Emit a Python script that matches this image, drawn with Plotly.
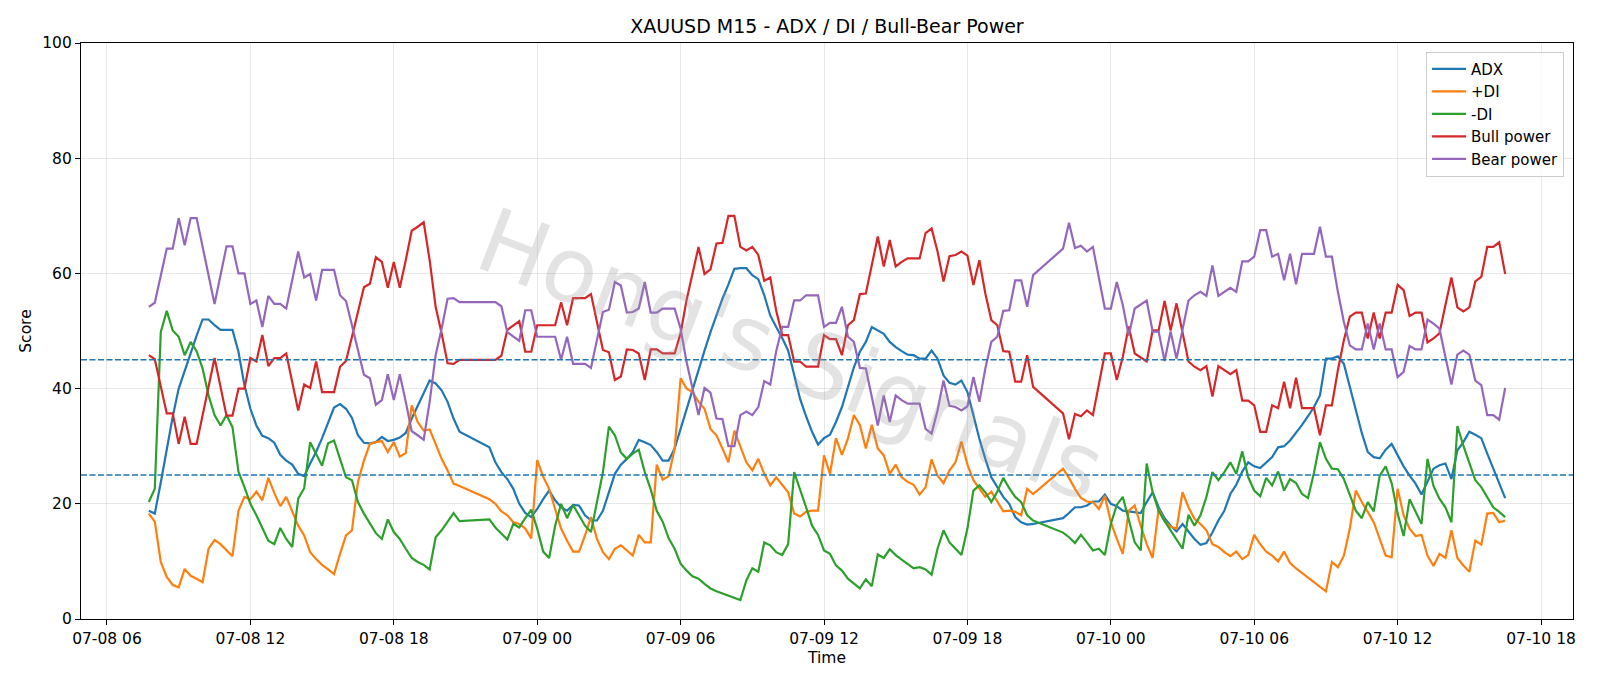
import pandas as pd
import plotly.graph_objects as go

START = pd.Timestamp("2025-07-08 07:45")
LAST_BAR = 227

bear_bars = [0,1,3,4,5,6,7,8,11,13,14,15,16,17,18,19,20,21,22,23,25,26,27,28,29,31,32,33,34,35,36,37,38,39,40,41,42,43,44,45,46,47,48,49,50,51,52,58,59,60,62,63,64,65,68,69,70,71,73,74,76,77,78,79,80,81,82,83,84,85,86,88,89,90,91,92,93,94,95,96,97,98,99,100,101,102,103,104,105,106,107,108,109,110,112,113,114,115,116,117,118,119,120,121,122,123,124,125,126,127,129,130,131,132,133,134,135,136,137,138,139,140,141,142,143,144,145,146,147,148,153,154,155,156,157,158,160,161,162,163,164,165,167,168,169,170,171,172,173,174,175,176,177,178,179,180,181,182,183,184,185,186,187,188,189,190,191,192,193,195,196,197,198,199,200,201,202,203,204,205,206,207,208,209,210,211,212,213,214,215,216,217,218,219,220,221,222,223,224,225,226,227]
bear_power = [54.2,54.9,64.3,64.3,69.6,64.9,69.6,69.6,54.7,64.7,64.7,60.0,60.0,54.7,55.3,50.7,56.1,54.7,54.7,53.9,63.8,59.3,59.9,55.3,60.6,60.6,56.2,55.2,51.0,46.9,42.4,41.8,37.2,38.0,42.5,38.0,42.5,37.7,32.6,31.9,31.1,37.7,45.8,50.4,55.6,55.7,55.0,55.0,54.3,49.8,48.3,53.6,53.6,49.0,49.0,45.0,49.0,44.3,44.3,43.6,53.3,53.7,58.5,57.9,53.2,53.3,53.9,58.5,53.2,53.2,53.9,53.9,50.4,44.6,40.0,35.4,40.1,39.3,34.8,34.7,30.0,30.0,35.4,36.0,35.4,36.8,41.3,40.7,46.5,50.7,50.7,55.3,55.3,56.2,56.2,50.7,51.4,51.4,54.2,49.0,48.1,43.6,43.5,38.8,33.6,38.8,34.2,38.8,38.0,37.4,37.4,33.0,32.2,36.2,41.4,37.0,36.8,36.2,36.9,42.0,37.7,43.5,48.1,49.0,53.5,53.6,58.8,58.8,54.2,59.7,64.3,68.8,64.4,64.8,63.8,64.6,53.9,53.9,58.5,54.5,49.2,53.9,55.3,49.9,49.9,44.8,49.9,45.2,50.4,55.3,56.2,56.8,56.1,61.4,56.1,56.8,57.5,56.8,62.1,62.1,62.9,67.5,67.5,62.9,63.4,58.8,63.4,58.1,63.4,63.4,68.1,62.9,62.9,56.8,51.6,47.5,46.8,46.8,51.3,46.8,51.3,46.8,46.8,42.0,42.9,47.4,46.8,46.8,52.0,51.3,50.4,45.5,40.7,45.9,46.6,45.9,41.4,40.6,35.4,35.4,34.6,40.1]
bull_power = [45.8,45.1,35.7,35.7,30.4,35.1,30.4,30.4,45.3,35.3,35.3,40.0,40.0,45.3,44.7,49.3,43.9,45.3,45.3,46.1,36.2,40.7,40.1,44.7,39.4,39.4,43.8,44.8,49.0,53.1,57.6,58.2,62.8,62.0,57.5,62.0,57.5,62.3,67.4,68.1,68.9,62.3,54.2,49.6,44.4,44.3,45.0,45.0,45.7,50.2,51.7,46.4,46.4,51.0,51.0,55.0,51.0,55.7,55.7,56.4,46.7,46.3,41.5,42.1,46.8,46.7,46.1,41.5,46.8,46.8,46.1,46.1,49.6,55.4,60.0,64.6,59.9,60.7,65.2,65.3,70.0,70.0,64.6,64.0,64.6,63.2,58.7,59.3,53.5,49.3,49.3,44.7,44.7,43.8,43.8,49.3,48.6,48.6,45.8,51.0,51.9,56.4,56.5,61.2,66.4,61.2,65.8,61.2,62.0,62.6,62.6,67.0,67.8,63.8,58.6,63.0,63.2,63.8,63.1,58.0,62.3,56.5,51.9,51.0,46.5,46.4,41.2,41.2,45.8,40.3,35.7,31.2,35.6,35.2,36.2,35.4,46.1,46.1,41.5,45.5,50.8,46.1,44.7,50.1,50.1,55.2,50.1,54.8,49.6,44.7,43.8,43.2,43.9,38.6,43.9,43.2,42.5,43.2,37.9,37.9,37.1,32.5,32.5,37.1,36.6,41.2,36.6,41.9,36.6,36.6,31.9,37.1,37.1,43.2,48.4,52.5,53.2,53.2,48.7,53.2,48.7,53.2,53.2,58.0,57.1,52.6,53.2,53.2,48.0,48.7,49.6,54.5,59.3,54.1,53.4,54.1,58.6,59.4,64.6,64.6,65.4,59.9]

adx_bars = [0,1,2,3,4,5,6,7,8,9,10,11,12,14,15,16,17,18,19,20,21,22,23,24,25,26,27,28,29,30,31,32,33,34,35,36,37,38,39,40,41,42,43,44,45,46,47,48,49,50,51,52,57,58,59,60,61,62,63,64,65,66,67,68,69,70,71,72,73,74,75,76,77,78,79,80,81,82,83,84,85,86,87,88,89,90,91,92,93,94,95,96,97,98,99,100,101,102,103,104,105,106,107,108,109,110,111,112,113,114,115,116,117,118,119,120,121,122,123,124,125,126,127,128,129,130,131,132,133,134,135,136,137,138,139,140,141,142,143,144,145,146,147,148,153,154,155,156,157,158,159,160,161,162,163,164,165,166,167,168,169,170,171,172,173,174,175,176,177,178,179,180,181,182,183,184,185,186,187,188,189,190,191,192,193,194,195,196,197,198,199,200,201,202,203,204,205,206,207,208,209,210,211,212,213,214,215,216,217,218,219,220,221,222,223,224,225,226,227]
adx = [18.8,18.3,23.7,29.6,35.1,40.0,42.9,46.1,49.2,52.0,52.0,51.0,50.2,50.2,46.4,40.6,36.5,33.6,31.8,31.4,30.6,28.5,27.5,26.8,25.2,24.8,27.0,29.0,31.4,34.2,36.7,37.3,36.5,34.9,31.9,30.6,30.5,30.7,31.6,30.9,31.1,31.5,32.3,34.8,37.1,39.3,41.4,40.9,39.7,37.7,34.8,32.5,29.8,27.2,25.5,24.3,22.6,20.0,18.4,17.7,19.1,20.8,22.3,20.6,19.4,18.8,19.8,19.7,18.0,17.1,17.1,18.8,22.1,25.2,26.8,27.8,29.0,31.1,30.7,30.2,29.0,27.5,27.5,29.6,33.0,36.5,40.0,43.5,46.6,49.8,52.7,55.6,58.1,60.8,60.9,60.9,59.7,59.0,56.2,52.7,50.7,48.8,46.6,42.3,38.2,35.2,32.5,30.3,31.4,32.0,34.2,36.8,40.3,43.7,46.4,48.1,50.7,50.1,49.5,48.1,47.2,46.5,45.9,45.8,45.2,45.2,46.6,45.2,42.3,41.0,40.7,41.4,39.4,35.4,31.3,27.8,24.6,22.9,21.2,20.0,17.7,16.8,16.4,16.5,17.5,18.4,19.4,19.4,19.7,20.4,20.4,21.6,20.0,19.6,18.8,18.7,18.6,18.4,20.3,22.0,19.4,17.5,16.2,15.2,16.5,15.1,13.9,12.9,13.2,15.0,17.1,18.8,21.7,23.3,25.6,27.2,26.5,26.2,27.1,28.1,29.8,30.0,31.0,32.3,33.7,35.2,36.8,38.8,45.2,45.2,45.6,44.3,40.3,36.2,32.3,29.0,28.1,27.9,29.4,30.4,28.4,26.5,24.9,23.5,21.6,23.8,26.1,26.7,27.0,24.3,29.3,30.7,32.5,32.0,31.4,28.7,26.1,23.5,21.0]

pdi_bars = [0,1,2,3,4,5,6,7,8,9,10,11,12,13,14,15,16,17,18,19,20,21,22,23,24,25,26,27,28,29,30,31,32,33,34,35,36,37,38,39,40,41,42,43,44,45,46,47,48,49,50,51,52,57,58,59,60,61,62,63,64,65,66,67,68,69,70,71,72,73,74,75,76,77,78,79,80,81,82,83,84,85,86,87,88,89,90,91,92,93,94,95,96,97,98,99,100,101,102,103,104,105,106,107,108,109,110,111,112,113,114,115,116,117,118,119,120,121,122,123,124,125,126,127,128,129,130,131,132,133,134,135,136,137,138,139,140,141,142,143,144,145,146,147,148,153,154,155,156,157,158,159,160,161,162,163,164,165,166,167,168,169,170,171,172,173,174,175,176,177,178,179,180,181,182,183,184,185,186,187,188,189,190,191,192,193,194,195,196,197,198,199,200,201,202,203,204,205,206,207,208,209,210,211,212,213,214,215,216,217,218,219,220,221,222,223,224,225,226,227]
plus_di = [18.3,16.9,9.9,7.3,5.9,5.5,8.7,7.5,7.0,6.4,12.2,13.7,13.0,11.9,10.9,18.8,21.2,20.8,22.1,20.6,24.5,21.9,19.6,21.2,18.8,16.2,14.5,11.6,10.4,9.4,8.6,7.8,11.3,14.5,15.4,23.8,27.5,30.4,30.7,30.9,29.0,30.7,28.2,28.8,37.1,34.2,32.7,32.9,30.4,27.8,25.8,23.5,23.1,20.8,20.0,18.7,18.0,16.8,16.5,15.7,14.0,27.6,24.7,22.6,19.1,15.7,13.6,11.7,11.7,14.5,17.7,13.9,11.6,10.4,12.2,12.8,11.9,11.0,14.6,13.3,13.3,26.8,24.2,24.8,29.6,41.8,40.0,39.4,37.7,36.5,33.0,31.9,29.6,27.2,32.7,29.8,27.2,25.8,27.8,25.2,23.2,24.6,23.2,22.0,18.3,17.8,18.6,18.8,18.8,28.4,25.2,31.4,28.5,31.3,35.4,33.7,29.6,33.7,29.6,28.4,25.2,26.8,24.6,23.8,23.3,21.6,22.9,27.7,24.9,23.6,25.8,27.2,30.8,26.8,24.1,22.6,21.2,22.1,20.3,18.7,18.8,18.6,18.0,22.6,21.7,26.1,24.5,22.6,21.0,20.4,20.3,19.1,21.4,16.8,13.9,11.3,18.8,19.7,16.2,13.0,10.6,19.1,17.0,16.0,15.7,22.0,19.4,17.4,16.5,15.4,13.0,12.5,11.6,10.9,11.7,10.4,11.1,14.6,13.0,11.7,11.0,10.0,11.7,9.7,8.8,8.0,7.3,6.5,5.7,4.8,9.9,9.0,11.0,15.7,22.3,20.3,18.6,16.8,13.9,11.0,10.7,22.6,18.0,15.7,14.4,14.6,11.0,9.2,11.3,10.6,15.4,10.6,9.3,8.2,13.6,12.9,18.3,18.4,16.8,17.1]

mdi_bars = pdi_bars
minus_di = [20.3,22.6,49.8,53.5,50.1,49.0,45.8,48.1,46.5,43.5,38.8,35.4,33.6,35.4,33.3,25.6,22.9,20.0,18.0,15.9,13.6,13.0,15.8,13.9,12.5,20.9,22.7,30.7,28.7,26.6,30.5,31.0,27.8,24.6,24.1,20.3,18.3,16.5,14.9,13.9,17.3,15.1,13.9,12.2,10.6,9.9,9.4,8.6,14.2,15.4,16.8,18.4,17.0,17.3,15.9,14.8,13.8,16.5,15.9,17.5,19.0,15.7,11.7,10.6,16.2,20.0,17.5,19.8,18.0,16.2,15.1,20.3,25.5,33.4,31.9,28.9,27.8,28.7,29.4,25.5,22.5,18.8,16.9,14.0,12.2,9.6,8.4,7.4,7.0,6.1,5.3,4.8,4.4,4.0,3.6,3.3,6.7,8.8,8.2,13.3,12.8,11.6,11.1,13.0,25.5,22.6,19.4,16.2,14.6,11.9,11.3,9.3,8.4,7.0,6.1,5.3,6.9,5.7,11.2,10.6,12.1,11.1,10.3,9.6,8.8,9.0,8.6,7.7,12.2,15.4,13.3,12.2,11.1,15.7,22.3,23.2,22.0,20.3,22.1,24.5,22.7,21.2,20.3,18.0,17.1,15.0,14.2,13.2,14.6,13.3,11.9,12.2,11.1,16.5,19.8,21.2,17.4,13.3,11.9,27.0,22.0,18.8,17.0,15.4,13.6,12.2,18.1,16.2,18.0,21.2,25.5,24.1,25.5,27.2,25.2,29.1,24.6,22.3,21.3,24.5,23.2,25.6,22.3,24.3,23.6,21.7,21.0,25.4,30.7,27.8,26.1,26.0,24.3,21.4,18.8,17.5,20.3,18.7,24.9,26.5,23.6,18.3,14.4,20.8,18.7,16.5,27.8,23.1,20.9,19.4,16.8,33.5,30.1,27.2,24.1,22.9,21.2,19.4,18.6,17.7]

thresholds = [45, 25]
tick_times = pd.date_range("2025-07-08 06:00", "2025-07-10 18:00", freq="6h")
tick_labels = [t.strftime("%m-%d %H") for t in tick_times]


def to_time(bars):
    return [START + pd.Timedelta(minutes=15 * b) for b in bars]


series = [
    ("ADX", adx_bars, adx, "#1f77b4"),
    ("+DI", pdi_bars, plus_di, "#ff7f0e"),
    ("-DI", mdi_bars, minus_di, "#2ca02c"),
    ("Bull power", bear_bars, bull_power, "#d62728"),
    ("Bear power", bear_bars, bear_power, "#9467bd"),
]

FONT = "DejaVu Sans"

fig = go.Figure()
for name, bars, vals, col in series:
    fig.add_trace(go.Scatter(x=to_time(bars), y=vals, mode="lines", name=name,
                             line=dict(color=col, width=2.2)))

for th in thresholds:
    fig.add_shape(type="line", xref="paper", x0=0, x1=1, yref="y", y0=th, y1=th,
                  line=dict(color="#1f77b4", width=1.5, dash="6px,2.5px"), layer="above")

t0 = START
t1 = START + pd.Timedelta(minutes=15 * LAST_BAR)
pad = (t1 - t0) * 0.05

fig.add_annotation(text="Hong's Signals", xref="paper", yref="paper", x=0.476, y=0.46,
                   showarrow=False, textangle=21,
                   font=dict(family=FONT, size=90, color="rgba(150,150,150,0.27)"))

axis_common = dict(showline=True, linecolor="black", linewidth=1.1, mirror=True,
                   ticks="outside", ticklen=5, tickcolor="black", tickwidth=1,
                   showgrid=True, gridcolor="rgba(176,176,176,0.3)", gridwidth=1,
                   zeroline=False,
                   tickfont=dict(family=FONT, size=15.5, color="black"))

fig.update_layout(
    width=1600, height=686,
    margin=dict(l=81, r=27, t=43, b=67),
    paper_bgcolor="white", plot_bgcolor="white",
    font=dict(family=FONT, size=15.5, color="black"),
    title=dict(text="XAUUSD M15 - ADX / DI / Bull-Bear Power", xref="paper", x=0.5,
               xanchor="center", yref="container", y=0.962, yanchor="middle",
               font=dict(size=19, family=FONT)),
    xaxis=dict(type="date", range=[t0 - pad, t1 + pad], tickvals=tick_times, ticktext=tick_labels,
               title=dict(text="Time", standoff=5, font=dict(size=15.5)), **axis_common),
    yaxis=dict(range=[0, 100], tickvals=[0, 20, 40, 60, 80, 100],
               title=dict(text="Score", standoff=6, font=dict(size=15.5)), **axis_common),
    legend=dict(x=0.994, xanchor="right", y=0.985, yanchor="top",
                bgcolor="rgba(255,255,255,0.8)", bordercolor="#cccccc", borderwidth=1,
                font=dict(family=FONT, size=15), tracegroupgap=0,
                itemwidth=34),
    showlegend=True,
)

fig.write_html("out.html")
